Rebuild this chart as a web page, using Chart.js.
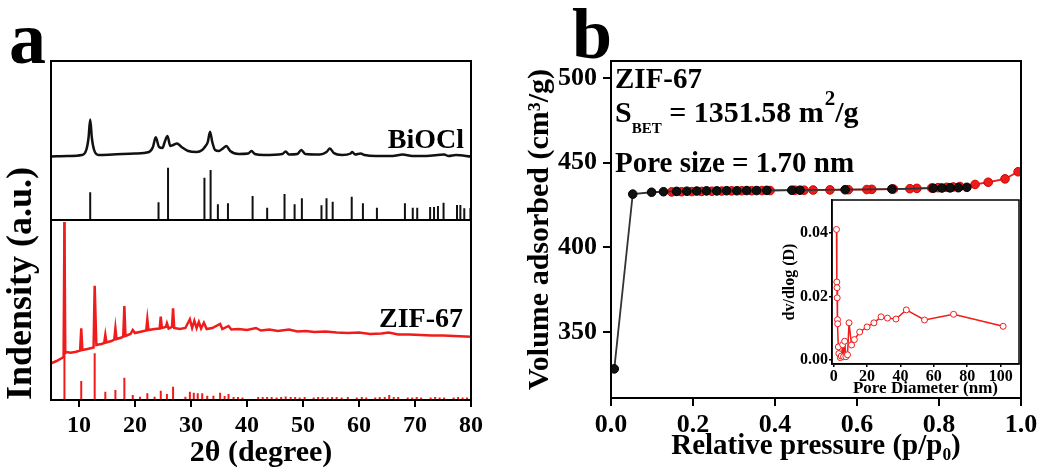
<!DOCTYPE html>
<html>
<head>
<meta charset="utf-8">
<title>ZIF-67 XRD and N2 isotherm</title>
<script src="https://cdn.jsdelivr.net/npm/chart.js@4.4.1/dist/chart.umd.min.js"></script>
<style>
  body { margin: 0; background: #fff; }
  #wrap { position: relative; width: 1051px; height: 475px; overflow: hidden; }
  canvas { position: absolute; }
</style>
</head>
<body>
<div id="wrap">
  <canvas id="xrd" width="520" height="475" style="left:0;top:0"></canvas>
  <canvas id="bet" width="531" height="475" style="left:520px;top:0"></canvas>
  <canvas id="pore" width="275" height="215" style="left:760px;top:188px"></canvas>
</div>
<script>
// ---- panel a : XRD (intensities in a.u., relative to each trace's baseline)
const bioclTheta = [5, 8, 10.5, 11.3, 11.7, 12.0, 12.3, 12.7, 13.5, 16, 20, 22.5, 23.2, 23.7, 24.3, 24.9, 25.3, 25.8, 26.3, 26.8, 27.5, 28.3, 29.5, 31.0, 32.0, 32.6, 33.0, 33.4, 33.8, 34.3, 35.0, 35.8, 36.3, 37.0, 38.5, 40.2, 40.8, 41.4, 43, 46.3, 46.9, 47.5, 49.0, 49.7, 50.4, 53, 54.2, 54.8, 55.5, 57, 58.5, 58.8, 59.3, 60.3, 61, 63, 66, 67.8, 69.5, 72, 75.2, 76, 77.3, 80];
const bioclCounts = [0.5, 1, 2, 7, 19, 37.5, 19, 7, 2, 2.5, 3.5, 5, 10, 19.7, 10, 9, 15, 21, 11, 12, 13.5, 10, 6, 5, 7, 11, 15, 25.3, 15, 7, 6, 9, 11, 6, 3, 3.5, 6, 3, 2, 3, 5.5, 2.5, 3, 7, 3, 2.5, 5, 8.5, 4, 2, 3.5, 5, 2.5, 3.5, 2, 1, 1, 2.5, 1, 1, 2.5, 1, 2, 0.5];
const bioclRefTheta = [12.0, 24.2, 25.9, 32.4, 33.5, 34.8, 36.6, 41.0, 43.6, 46.7, 48.5, 49.8, 53.3, 54.2, 55.3, 58.7, 60.7, 63.2, 68.2, 69.6, 70.4, 72.7, 73.4, 74.1, 75.1, 77.5, 78.1, 78.8, 79.9];
const bioclRefInt = [27.7, 17.7, 52.3, 42.3, 50, 15.7, 16.7, 24, 12.3, 26, 15.7, 21.7, 14.7, 21.7, 18.3, 23.3, 16.7, 12.3, 16.7, 12.3, 12.3, 13, 13, 14, 17.3, 15, 15, 11.7, 12];

const zifTheta = [5.0, 6.0, 6.8, 7.25, 7.4, 7.55, 7.8, 8.5, 9.5, 10.2, 10.4, 10.6, 11.5, 12.6, 12.8, 13.1, 14.0, 14.5, 14.7, 14.9, 15.8, 16.3, 16.5, 16.7, 17.6, 17.9, 18.1, 18.3, 19.2, 19.6, 20.0, 21.0, 22.0, 22.2, 22.4, 23.5, 24.4, 24.6, 24.8, 25.5, 25.7, 26.0, 26.6, 26.8, 27.0, 28.0, 29.0, 29.8, 30.2, 30.6, 31.0, 31.4, 31.8, 32.3, 32.8, 33.8, 35.2, 35.6, 36.7, 37.2, 38.5, 40, 41.6, 42.5, 44, 45.5, 47.5, 49, 50.5, 52, 54, 56, 58, 60, 62, 64, 65.3, 67, 69, 71, 73, 75, 77, 79, 80];
const zifCounts = [6.7, 9, 11.5, 13, 148, 17, 18, 17.3, 18.3, 19.5, 41.7, 20, 21, 22.5, 84.3, 25, 26, 27, 35, 27.5, 29, 30.5, 41.7, 31, 32.5, 33.5, 64, 34, 36, 40, 37, 38.3, 39.5, 50.7, 40, 41, 41.5, 53.3, 42, 43, 46.7, 41.5, 43, 61.7, 42, 41, 42, 50.7, 42, 49.3, 42, 48, 41.5, 47.3, 41, 42, 46, 41, 44, 40.5, 41, 40, 42, 39.5, 40.5, 39, 40.5, 38.5, 39, 38, 38.5, 37.5, 37, 37.5, 36, 36.5, 37.5, 35.5, 35.5, 35, 34.5, 34.5, 34, 33.5, 33.3];
const zifRefTheta = [7.4, 10.4, 12.8, 14.7, 16.5, 18.1, 19.6, 20.9, 22.2, 23.5, 24.6, 25.7, 26.8, 29.0, 29.8, 30.5, 31.2, 32.0, 32.9, 34.0, 35.2, 36.0, 36.7, 37.6, 38.4, 39.2, 42.0, 42.8, 43.6, 44.4, 45.3, 46.1, 46.9, 47.8, 48.6, 49.4, 50.3, 51.9, 52.7, 53.5, 54.4, 55.2, 56.0, 56.9, 58.0, 59.6, 60.5, 61.3, 62.9, 63.7, 64.6, 65.4, 66.2, 67.0, 68.7, 69.5, 70.3, 71.1, 72.8, 73.6, 74.4, 75.2, 76.9, 77.7, 78.5, 79.3];
const zifRefInt = [178, 19, 46.7, 8.3, 10, 22.3, 5, 3.3, 6.7, 3.3, 9.3, 6, 13.3, 3.3, 8.3, 7.3, 6.7, 6.7, 4.3, 4.3, 7.3, 4, 6, 3, 3, 2.5, 3, 3, 3, 3, 2.5, 3, 3.5, 3, 3, 2.5, 3, 2.5, 3, 3, 2.5, 3, 3, 2.5, 3, 2.5, 3, 2.5, 2.5, 3, 3, 5, 3, 3, 2.5, 2.5, 3, 2.5, 2.5, 3, 2.5, 2.5, 2.5, 3, 2.5, 2.5];
const xrdTicks = [10, 20, 30, 40, 50, 60, 70, 80];

// stacking offsets of the four traces
const ZIF_REF_BASE = 0, ZIF_BASE = 30, BIOCL_REF_BASE = 180, BIOCL_BASE = 243;

// ---- panel b : N2 isotherm
const adsP = [0.008, 0.053, 0.099, 0.128, 0.160, 0.185, 0.209, 0.233, 0.258, 0.282, 0.307, 0.331, 0.355, 0.380, 0.441, 0.461, 0.571, 0.685, 0.786, 0.807, 0.827, 0.847, 0.868];
const adsV = [328.2, 431.4, 432.5, 432.8, 433.0, 433.1, 433.2, 433.3, 433.3, 433.4, 433.4, 433.5, 433.5, 433.6, 433.7, 433.7, 434.0, 434.4, 434.9, 435.0, 435.1, 435.2, 435.4];
const desP = [0.993, 0.961, 0.920, 0.888, 0.851, 0.835, 0.819, 0.798, 0.782, 0.746, 0.729, 0.689, 0.636, 0.624, 0.579, 0.534, 0.493, 0.471, 0.449, 0.388, 0.368, 0.343, 0.319, 0.294, 0.270, 0.246, 0.221, 0.197, 0.172, 0.148];
const desV = [444.6, 440.4, 438.4, 437.1, 435.9, 435.6, 435.4, 435.2, 435.0, 434.8, 434.6, 434.4, 434.2, 434.1, 434.0, 433.9, 433.8, 433.7, 433.7, 433.5, 433.5, 433.4, 433.4, 433.3, 433.2, 433.1, 433.0, 432.9, 432.8, 432.7];
const betXTicks = [0, 0.2, 0.4, 0.6, 0.8, 1.0];
const betYTicks = [350, 400, 450, 500];

// inset : pore size distribution
const poreD = [1.7, 1.9, 2.0, 2.1, 2.3, 2.4, 2.8, 3.1, 4.0, 4.6, 5.4, 5.9, 6.6, 7.3, 8.3, 9.2, 10.7, 12.4, 15.6, 20.0, 24.1, 28.4, 32.2, 37.3, 43.5, 54.4, 71.8, 101.5];
const poreDv = [0.0412, 0.0246, 0.0228, 0.0196, 0.0127, 0.0114, 0.0041, 0.0020, 0.0007, 0.0012, 0.0048, 0.0010, 0.0059, 0.0010, 0.0016, 0.0117, 0.0047, 0.0064, 0.0088, 0.0104, 0.0117, 0.0136, 0.0132, 0.0129, 0.0158, 0.0126, 0.0144, 0.0106];
const poreXTicks = [0, 20, 40, 60, 80, 100];
const poreYTicks = [0, 0.02, 0.04];

const FONT = "'Liberation Serif', 'Times New Roman', serif";
const RED = '#f01c1c';
Chart.defaults.font.family = FONT;
Chart.defaults.font.weight = 'bold';
Chart.defaults.color = '#000';

const pts = (xs, ys, base) => xs.map((x, i) => ({x: x, y: ys[i] + (base || 0)}));
function sticks(xs, hs, base) {
  const out = [];
  xs.forEach((x, i) => { out.push({x: x, y: base}, {x: x, y: base + hs[i]}, {x: x, y: null}); });
  return out;
}
const fixedTicks = list => (s => { s.ticks = list.map(v => ({value: v})); });

function text(ctx, str, x, y, size, align) {
  ctx.font = 'bold ' + size + 'px ' + FONT;
  ctx.textAlign = align || 'left';
  ctx.textBaseline = 'alphabetic';
  ctx.fillStyle = '#000';
  ctx.fillText(str, x, y);
  return ctx.measureText(str).width;
}

// box around the plot area
const frame = {
  id: 'frame',
  afterDatasetsDraw(chart, args, opts) {
    const a = chart.chartArea, ctx = chart.ctx;
    ctx.save();
    ctx.strokeStyle = '#000';
    ctx.lineWidth = opts.width || 2;
    ctx.strokeRect(a.left, a.top, a.right - a.left, a.bottom - a.top);
    ctx.restore();
  }
};

function tickAxis(extra) {
  return Object.assign({
    type: 'linear',
    grid: {display: true, drawOnChartArea: false, drawTicks: true, tickLength: 8, color: '#000', lineWidth: 2},
    border: {display: true, color: '#000', width: 2},
  }, extra);
}

// ---------- panel a
new Chart(document.getElementById('xrd'), {
  type: 'scatter',
  data: {
    datasets: [
      {data: [{x: 5, y: BIOCL_REF_BASE}, {x: 80, y: BIOCL_REF_BASE}], showLine: true, borderColor: '#000', borderWidth: 2, pointRadius: 0},
      {data: pts(bioclTheta, bioclCounts, BIOCL_BASE), showLine: true, borderColor: '#111', borderWidth: 2.5, pointRadius: 0, cubicInterpolationMode: 'monotone'},
      {data: sticks(bioclRefTheta, bioclRefInt, BIOCL_REF_BASE), showLine: true, spanGaps: false, borderColor: '#111', borderWidth: 2, pointRadius: 0},
      {data: pts(zifTheta, zifCounts, ZIF_BASE), showLine: true, borderColor: RED, borderWidth: 2.5, pointRadius: 0},
      {data: sticks(zifRefTheta, zifRefInt, ZIF_REF_BASE), showLine: true, spanGaps: false, borderColor: RED, borderWidth: 2, pointRadius: 0}
    ]
  },
  options: {
    responsive: false,
    animation: false,
    layout: {padding: {left: 0, right: 49, top: 61, bottom: 0}},
    plugins: {legend: {display: false}, tooltip: {enabled: false}, frame: {width: 2}},
    scales: {
      x: tickAxis({
        min: 5, max: 80,
        afterBuildTicks: fixedTicks(xrdTicks),
        ticks: {padding: 4, font: {size: 24}},
        grid: {display: true, drawOnChartArea: false, drawTicks: true, tickLength: 7, color: '#000', lineWidth: 2},
        title: {display: true, text: '2θ (degree)', font: {size: 30}, padding: {top: 0, bottom: 4}},
        afterFit: s => { s.height = 75; }
      }),
      y: {
        min: 0, max: 339,
        ticks: {display: false},
        grid: {display: false},
        border: {display: true, color: '#000', width: 2},
        title: {display: true, text: 'Indensity (a.u.)', align: 'start', font: {size: 36}, padding: {top: 0, bottom: 0}},
        afterFit: s => { s.width = 51; }
      }
    }
  },
  plugins: [frame, {
    id: 'labelsA',
    afterDraw(chart) {
      const ctx = chart.ctx;
      text(ctx, 'a', 9, 63, 74);
      text(ctx, 'BiOCl', 464, 148, 28, 'right');
      text(ctx, 'ZIF-67', 463, 327, 28, 'right');
    }
  }]
});

// ---------- panel b
new Chart(document.getElementById('bet'), {
  type: 'scatter',
  data: {
    datasets: [
      {label: 'Adsorption', data: pts(adsP, adsV), showLine: true, borderColor: '#333', borderWidth: 1.8,
       pointRadius: 4.3, pointBackgroundColor: '#111', pointBorderColor: '#000', pointBorderWidth: 1},
      {label: 'Desorption', data: pts(desP, desV), showLine: true, borderColor: RED, borderWidth: 1.8,
       pointRadius: 4.3, pointBackgroundColor: RED, pointBorderColor: '#d00000', pointBorderWidth: 1}
    ]
  },
  options: {
    responsive: false,
    animation: false,
    layout: {padding: {left: 0, right: 30, top: 61, bottom: 0}},
    plugins: {legend: {display: false}, tooltip: {enabled: false}, frame: {width: 2}},
    scales: {
      x: tickAxis({
        min: 0, max: 1,
        afterBuildTicks: fixedTicks(betXTicks),
        ticks: {padding: 4, font: {size: 26}, callback: v => v.toFixed(1)},
        title: {display: true, text: 'Relative pressure (p/p₀)', font: {size: 29}, padding: {top: 0, bottom: 11}},
        afterFit: s => { s.height = 77; }
      }),
      y: tickAxis({
        min: 311, max: 510,
        afterBuildTicks: fixedTicks(betYTicks),
        ticks: {padding: 6, font: {size: 26}},
        title: {display: true, text: 'Volume adsorbed (cm³/g)', font: {size: 30}, padding: {top: 2, bottom: 0}},
        afterFit: s => { s.width = 91; }
      })
    }
  },
  plugins: [frame, {
    id: 'labelsB',
    afterDraw(chart) {
      const ctx = chart.ctx;
      text(ctx, 'b', 52, 58, 72);
      text(ctx, 'ZIF-67', 95, 88, 29);
      let x = 95;
      x += text(ctx, 'S', x, 122, 30);
      x += text(ctx, 'BET', x, 133, 15);
      x += text(ctx, ' = 1351.58 m', x, 122, 30);
      x += text(ctx, '2', x + 1, 105, 21) + 1;
      text(ctx, '/g', x, 122, 30);
      text(ctx, 'Pore size = 1.70 nm', 95, 172, 29);
    }
  }]
});

// ---------- inset
new Chart(document.getElementById('pore'), {
  type: 'scatter',
  data: {
    datasets: [{
      data: pts(poreD, poreDv), showLine: true, borderColor: RED, borderWidth: 1.5,
      pointRadius: 3, pointBackgroundColor: '#fff', pointBorderColor: RED, pointBorderWidth: 1
    }]
  },
  options: {
    responsive: false,
    animation: false,
    layout: {padding: {left: 0, right: 16, top: 12, bottom: 0}},
    plugins: {legend: {display: false}, tooltip: {enabled: false}, frame: {width: 1.5}},
    scales: {
      x: tickAxis({
        min: -1, max: 111,
        afterBuildTicks: fixedTicks(poreXTicks),
        ticks: {padding: 0, font: {size: 16}},
        grid: {display: true, drawOnChartArea: false, drawTicks: true, tickLength: 3, color: '#000', lineWidth: 1.5},
        border: {display: true, color: '#000', width: 1.5},
        title: {display: true, text: 'Pore Diameter (nm)', font: {size: 17}, padding: {top: 0, bottom: 4}},
        afterFit: s => { s.height = 39; }
      }),
      y: tickAxis({
        min: -0.0013, max: 0.0505,
        afterBuildTicks: fixedTicks(poreYTicks),
        ticks: {padding: 1, font: {size: 16}, callback: v => v.toFixed(2)},
        grid: {display: true, drawOnChartArea: false, drawTicks: true, tickLength: 3, color: '#000', lineWidth: 1.5},
        border: {display: true, color: '#000', width: 1.5},
        title: {display: true, text: 'dv/dlog (D)', font: {size: 16}, padding: {top: 20, bottom: 0}},
        afterFit: s => { s.width = 72; }
      })
    }
  },
  plugins: [frame]
});
</script>
</body>
</html>
